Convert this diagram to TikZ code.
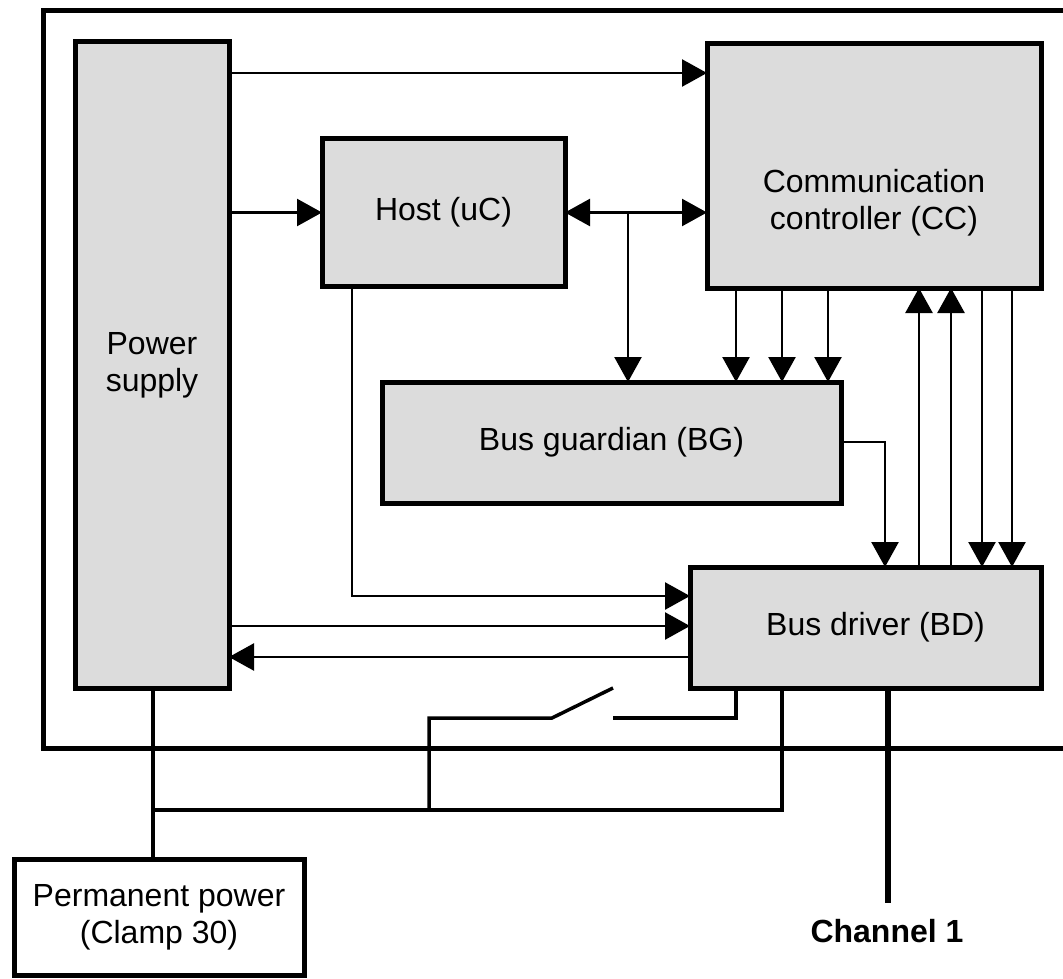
\documentclass[tikz,border=0pt]{standalone}
\usepackage{fontspec}
\setmainfont{Liberation Sans}
\usetikzlibrary{arrows.meta}
\definecolor{boxgray}{RGB}{220,220,220}
\begin{document}
\begin{tikzpicture}[x=1pt,y=-1pt,
  txt/.style={font=\fontsize{32}{37}\selectfont, align=center},
  box/.style={draw, line width=5pt, fill=boxgray, inner sep=0pt, outer sep=0pt, anchor=north west, txt},
  conn/.style={line width=2.5pt},
  arr/.style={conn, -{Triangle[length=25pt,width=27pt]}},
  darr/.style={conn, {Triangle[length=25pt,width=27pt]}-{Triangle[length=25pt,width=27pt]}},
  wire/.style={line width=3.5pt},
  chan/.style={line width=6pt},
]
\clip (0,0) rectangle (1063,979);
% outer frame
\draw[line width=5pt] (43,11) rectangle (1090,748);
% blocks
\node[box, minimum width=154pt, minimum height=646pt] (ps) at (75,42) {Power\\supply};
\node[box, minimum width=334pt, minimum height=244pt] (cc) at (707,44) {};
\node[txt] (cctext) at (874,203) {Communication\\controller (CC)};
\node[box, minimum width=243pt, minimum height=147pt] (host) at (322,139) {Host (uC)};
\node[box, minimum width=459pt, minimum height=121pt] (bg) at (382,382) {Bus guardian (BG)};
\node[box, minimum width=351pt, minimum height=121pt] (bd) at (690,567) {\hspace*{20pt}Bus driver (BD)};
\node[box, fill=white, minimum width=290pt, minimum height=116pt] (pp) at (14,859) {Permanent power\\(Clamp 30)};
\node[txt, font=\fontsize{32}{37}\selectfont\bfseries, anchor=base] (ch) at (887,942) {Channel 1};
% connectors
\draw[arr] (ps.east |- 0,73) -- (cc.west |- 0,73);
\draw[arr] (ps.east |- host.west) -- (host.west);
\draw[darr] (host.east) -- (cc.west |- host.east);
\coordinate (j1) at (628,212);
\draw[arr] (j1) -- (j1 |- bg.north);
\foreach \xx in {736,782,828}
  \draw[arr] (cc.south -| \xx,0) -- (bg.north -| \xx,0);
\draw[arr] (bg.east |- 0,442) -| (bd.north -| 885,0);
\foreach \xx in {919,951}
  \draw[arr] (bd.north -| \xx,0) -- (cc.south -| \xx,0);
\foreach \xx in {982,1012}
  \draw[arr] (cc.south -| \xx,0) -- (bd.north -| \xx,0);
\draw[arr] (host.south -| 352,0) |- (bd.west |- 0,596);
\draw[arr] (ps.east |- 0,626) -- (bd.west |- 0,626);
\draw[arr] (bd.west |- 0,657) -- (ps.east |- 0,657);
% switch
\coordinate (swr) at (613,718);
\coordinate (swl) at (552,718);
\coordinate (swt) at (613,688);
\coordinate (j2) at (429,810);
\draw[wire] (bd.south -| 736,0) |- (swr);
\draw[wire] (j2) |- (swl) -- (swt);
% supply bus
\draw[wire, line width=4pt] (ps.south -| 153,0) -- (pp.north -| 153,0);
\draw[wire, line width=4pt] (153,810) -| (bd.south -| 782,0);
% channel
\coordinate (chend) at (888,903);
\draw[chan] (bd.south -| 888,0) -- (chend);
\end{tikzpicture}
\end{document}
